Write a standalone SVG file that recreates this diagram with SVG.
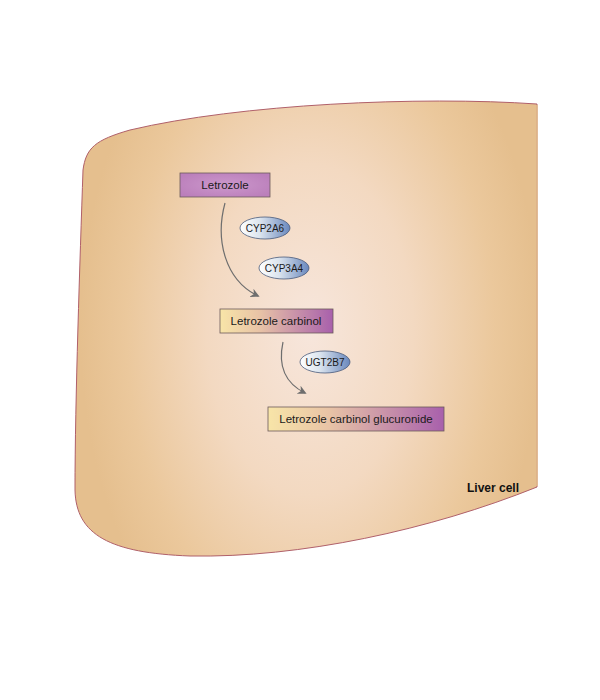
<svg xmlns="http://www.w3.org/2000/svg" width="600" height="700" viewBox="0 0 600 700">
<defs>
<radialGradient id="cellGrad" cx="310" cy="330" r="230" gradientUnits="userSpaceOnUse" gradientTransform="translate(310 330) scale(1 1.6) translate(-310 -330)">
<stop offset="0" stop-color="#f7e6dc"/>
<stop offset="0.45" stop-color="#f3d9c1"/>
<stop offset="0.8" stop-color="#ebc89c"/>
<stop offset="1" stop-color="#e5bf8e"/>
</radialGradient>
<radialGradient id="purpleGrad" cx="0.5" cy="0.5" r="0.6">
<stop offset="0" stop-color="#cc98cc"/>
<stop offset="1" stop-color="#bb7fbb"/>
</radialGradient>
<linearGradient id="ymGrad" x1="0" y1="0" x2="1" y2="0">
<stop offset="0" stop-color="#f8e5a8"/>
<stop offset="0.35" stop-color="#e8c3a6"/>
<stop offset="1" stop-color="#a860ac"/>
</linearGradient>
<linearGradient id="enzGrad" x1="0" y1="0" x2="1" y2="0">
<stop offset="0" stop-color="#ffffff"/>
<stop offset="0.4" stop-color="#dbe4ee"/>
<stop offset="1" stop-color="#6a88bd"/>
</linearGradient>
<marker id="arrow" viewBox="0 0 10 10" refX="8" refY="5" markerWidth="9" markerHeight="9" orient="auto" markerUnits="userSpaceOnUse">
<path d="M0,0 L10,5 L0,10 L3,5 Z" fill="#6e6e6e"/>
</marker>
<style>
.lbl{font-family:"Liberation Sans","Noto Sans",Arial,sans-serif;font-size:11.5px;fill:#1a1a1a;text-anchor:middle}
.enz{font-family:"Liberation Sans","Noto Sans",Arial,sans-serif;font-size:10px;fill:#1a1a1a;text-anchor:middle}
.box{stroke:#6b5a5a;stroke-width:0.8}
.ell{fill:url(#enzGrad);stroke:#4a5a7a;stroke-width:0.8}
.conn{fill:none;stroke:#6e6e6e;stroke-width:1.2}
</style>
</defs>
<g id="liver-cell">
<path d="M537,104 C420,96 240,104 130,130 C95,140 86,148 83,170 C80,260 75,400 75,490 C76,535 110,553 190,556 C300,558 430,530 537,487 Z" fill="url(#cellGrad)" stroke="#b0606a" stroke-width="1"/>
<line x1="537" y1="105" x2="537" y2="486" stroke="#e5bf8e" stroke-width="1.5"/>
<text x="493" y="492" font-family="'Liberation Sans','Noto Sans',Arial,sans-serif" font-size="12" font-weight="bold" text-anchor="middle" fill="#111">Liver cell</text>
</g>
<g id="connectors">
<path class="conn" d="M225,203 C215,240 225,280 258,296" marker-end="url(#arrow)"/>
<path class="conn" d="M283,342 C278,365 285,383 305,393" marker-end="url(#arrow)"/>
</g>
<g id="letrozole">
<rect class="box" x="180" y="173" width="90" height="24" fill="url(#purpleGrad)"/>
<text class="lbl" x="225" y="189">Letrozole</text>
</g>
<g id="cyp2a6">
<ellipse class="ell" cx="265" cy="228" rx="25" ry="11"/>
<text class="enz" x="265" y="232">CYP2A6</text>
</g>
<g id="cyp3a4">
<ellipse class="ell" cx="284" cy="268" rx="25" ry="11"/>
<text class="enz" x="284" y="272">CYP3A4</text>
</g>
<g id="letrozole-carbinol">
<rect class="box" x="220" y="309" width="113" height="24" fill="url(#ymGrad)"/>
<text class="lbl" x="276" y="325">Letrozole carbinol</text>
</g>
<g id="ugt2b7">
<ellipse class="ell" cx="325" cy="362" rx="25" ry="11"/>
<text class="enz" x="325" y="366">UGT2B7</text>
</g>
<g id="letrozole-carbinol-glucuronide">
<rect class="box" x="268" y="407" width="176" height="24" fill="url(#ymGrad)"/>
<text class="lbl" x="356" y="423">Letrozole carbinol glucuronide</text>
</g>
</svg>
